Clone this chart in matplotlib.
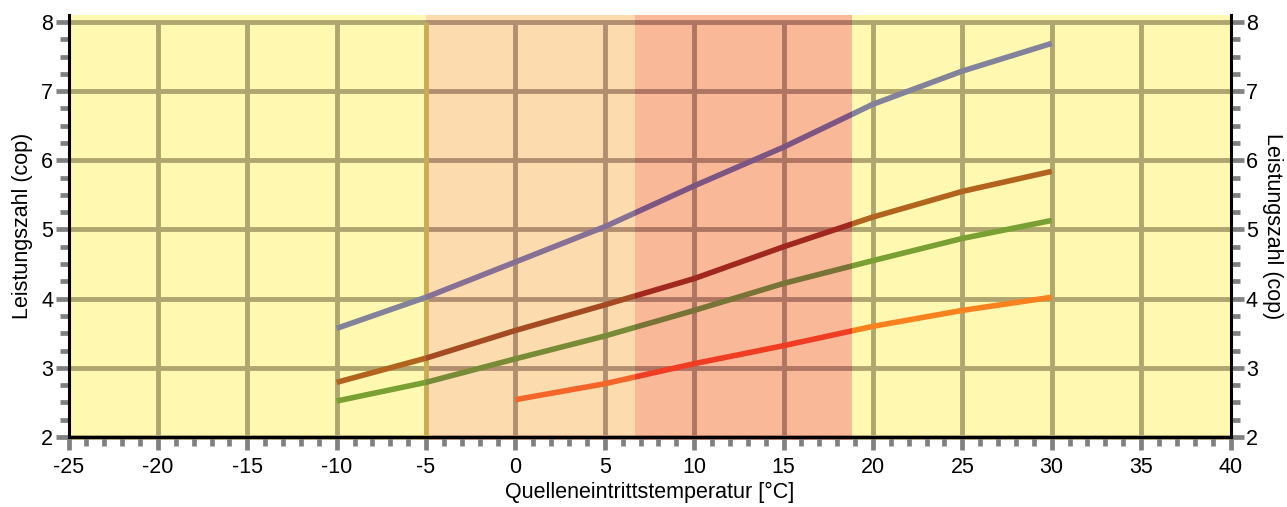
import matplotlib
matplotlib.use("Agg")
import matplotlib.pyplot as plt
from matplotlib.patches import Rectangle
from matplotlib.ticker import MultipleLocator

plt.rcParams['font.family'] = ['Liberation Sans', 'DejaVu Sans']

# ---- data ----
x_a = [-10, -5, 0, 5, 10, 15, 20, 25, 30]
purple = [3.57, 4.02, 4.53, 5.04, 5.63, 6.19, 6.81, 7.29, 7.69]
brown = [2.79, 3.14, 3.54, 3.91, 4.29, 4.75, 5.18, 5.55, 5.84]
green = [2.52, 2.79, 3.13, 3.46, 3.83, 4.22, 4.55, 4.87, 5.13]
x_b = [0, 5, 10, 15, 20, 25, 30]
orange = [2.54, 2.77, 3.06, 3.32, 3.60, 3.83, 4.02]

xticks = list(range(-25, 41, 5))
yticks = list(range(2, 9))

# zones (x-range)
zone_orange = (-5, 6.7)
zone_salmon = (6.7, 18.8)

# colours per zone: (yellow, orange, salmon)
series = [
    (x_a, purple, ('#82829B', '#877096', '#7D5582')),
    (x_a, brown, ('#B2641E', '#A54B23', '#A0281E')),
    (x_a, green, ('#78A032', '#788C37', '#787337')),
    (x_b, orange, ('#FA821E', '#F56428', '#F03C23')),
]
grid_cols = ('#AFA56F', '#B08E6F', '#AE7563')

W, H = 1287, 507
fig = plt.figure(figsize=(W / 100, H / 100), dpi=100)
ax = fig.add_axes([68.5 / W, 1 - 437 / H, (1230.5 - 68.5) / W, (437 - 15) / H])

xmin, xmax = -25, 40
ymin, ymax = 2, 8.1
ax.set_xlim(xmin, xmax)
ax.set_ylim(ymin, ymax)
ax.set_facecolor('#FFF8B0')

ax.axvspan(*zone_orange, color='#FCDBAE', lw=0, zorder=0.5)
ax.axvspan(*zone_salmon, color='#F9B897', lw=0, zorder=0.5)


def clip_rect(x0, x1):
    return Rectangle((x0, ymin - 1), x1 - x0, ymax - ymin + 2, transform=ax.transData)


zones = [((xmin - 5, zone_orange[0]), 0),
         ((zone_salmon[1], xmax + 5), 0),
         (zone_orange, 1),
         (zone_salmon, 2)]

# grid (coloured per zone)
for (x0, x1), k in zones:
    hl = ax.hlines(yticks, xmin, xmax, color=grid_cols[k], lw=3.5, zorder=1)
    hl.set_clip_path(clip_rect(x0, x1))
    vl = ax.vlines([v for v in xticks if v not in (-25, 40, -5)], 2, 8,
                   color=grid_cols[k], lw=3.5, zorder=1)
    vl.set_clip_path(clip_rect(x0, x1))
ax.vlines([-5], 2, 8, color='#C8AC55', lw=3.5, zorder=1.1)

# lines clipped by zone
for xs, ys, cols in series:
    for (x0, x1), k in zones:
        ln, = ax.plot(xs, ys, color=cols[k], lw=4.0, solid_capstyle='butt', zorder=3)
        ln.set_clip_path(clip_rect(x0, x1))

# spines
for s in ['left', 'bottom', 'right']:
    ax.spines[s].set_color('black')
    ax.spines[s].set_linewidth(2.2)
    ax.spines[s].set_zorder(4)
ax.spines['top'].set_visible(False)

ax.set_xticks(xticks)
ax.set_yticks(yticks)
ax.xaxis.set_minor_locator(MultipleLocator(1))
ax.yaxis.set_minor_locator(MultipleLocator(0.25))
ax.tick_params(which='major', direction='out', length=9.5, width=3.4, color='#808080',
               labelsize=15.5, right=True, labelright=True)
ax.tick_params(which='minor', direction='out', length=6.2, width=3.4, color='#808080',
               right=True)
ax.tick_params(axis='y', which='major', pad=1.5)
ax.tick_params(axis='x', which='major', pad=5)
ax.set_xticklabels([str(v) for v in xticks])
ax.set_yticklabels([str(v) for v in yticks])

ax.set_xlabel('Quelleneintrittstemperatur [°C]', fontsize=15.5, labelpad=3)
ax.set_ylabel('Leistungszahl (cop)', fontsize=15.5, labelpad=6)
fig.text(1272 / W, 1 - 226 / H, 'Leistungszahl (cop)', rotation=270, fontsize=15.5,
         ha='center', va='center')

fig.savefig('out.png', dpi=100)
